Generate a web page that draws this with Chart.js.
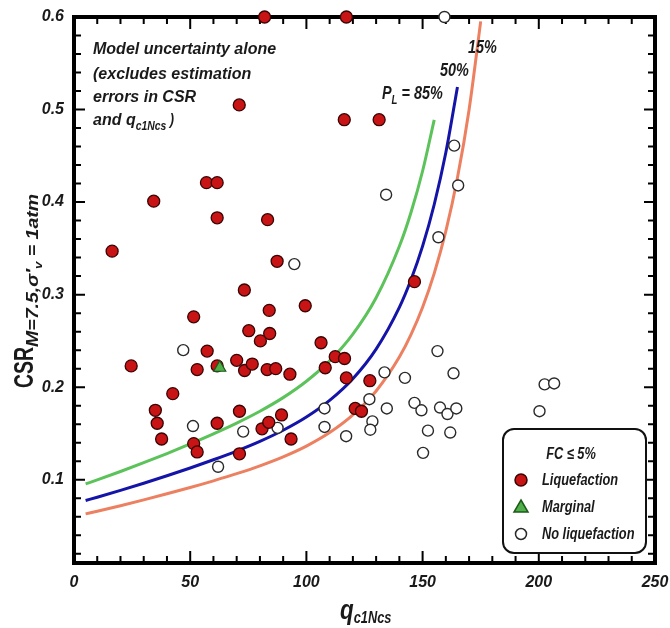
<!DOCTYPE html>
<html lang="en">
<head>
<meta charset="UTF-8">
<title>CSR vs qc1Ncs</title>
<script src="https://cdn.jsdelivr.net/npm/chart.js@4.4.9/dist/chart.umd.min.js"></script>
<style>
  html, body { margin: 0; padding: 0; background: #fff; }
  .wrap { width: 670px; height: 628px; }
</style>
</head>
<body>
<div class="wrap"><canvas id="liqChart" width="670" height="628"></canvas></div>
<script>
// axis ticks
const xTicks = [0, 50, 100, 150, 200, 250];
const yTicks = [0.1, 0.2, 0.3, 0.4, 0.5, 0.6];

// probability curves, P_L = 85%, 50%, 15%
const qPL85 = [5, 10, 20, 30, 40, 50, 60, 70, 80, 90, 100, 110, 120, 130, 140, 145, 150, 155];
const csrPL85 = [0.0955, 0.0998, 0.1089, 0.1184, 0.1283, 0.1387, 0.1496, 0.1612, 0.1740, 0.1887, 0.2064, 0.2284, 0.2573, 0.2966, 0.3522, 0.3888, 0.4336, 0.4889];
const qPL50 = [5, 10, 20, 30, 40, 50, 60, 70, 80, 90, 100, 110, 120, 130, 140, 145, 150, 155, 160, 165];
const csrPL50 = [0.0776, 0.0811, 0.0885, 0.0962, 0.1043, 0.1127, 0.1216, 0.1310, 0.1414, 0.1534, 0.1677, 0.1857, 0.2091, 0.2411, 0.2862, 0.3160, 0.3524, 0.3974, 0.4535, 0.5244];
const qPL15 = [5, 10, 20, 30, 40, 50, 60, 70, 80, 90, 100, 110, 120, 130, 140, 145, 150, 155, 160, 165, 170, 175];
const csrPL15 = [0.0631, 0.0659, 0.0719, 0.0782, 0.0848, 0.0916, 0.0988, 0.1065, 0.1150, 0.1247, 0.1363, 0.1509, 0.1700, 0.1959, 0.2326, 0.2568, 0.2864, 0.3230, 0.3686, 0.4262, 0.4998, 0.5953];

// case histories, FC <= 5%
const liqQ = [82.0, 117.2, 71.1, 116.3, 131.3, 34.3, 57.0, 61.6, 61.6, 83.3, 16.4, 87.4, 73.3, 99.5, 84.0, 51.5, 146.5, 75.2, 84.2, 80.2, 106.3, 57.3, 24.6, 53.0, 61.6, 70.0, 73.4, 76.7, 83.1, 86.8, 92.9, 108.1, 112.4, 116.4, 117.2, 127.3, 121.0, 123.7, 42.5, 35.0, 35.8, 37.7, 61.6, 71.2, 51.5, 53.0, 71.2, 80.9, 83.8, 89.3, 93.4];
const liqCSR = [0.600, 0.600, 0.505, 0.489, 0.489, 0.401, 0.421, 0.421, 0.383, 0.381, 0.347, 0.336, 0.305, 0.288, 0.283, 0.276, 0.314, 0.261, 0.258, 0.250, 0.248, 0.239, 0.223, 0.219, 0.223, 0.229, 0.218, 0.225, 0.219, 0.220, 0.214, 0.221, 0.233, 0.231, 0.210, 0.207, 0.177, 0.174, 0.193, 0.175, 0.161, 0.144, 0.161, 0.174, 0.139, 0.130, 0.128, 0.155, 0.162, 0.170, 0.144];
const margQ = [62.7];
const margCSR = [0.221];
const noLiqQ = [159.4, 163.6, 165.3, 134.3, 156.8, 94.8, 47.0, 156.4, 133.6, 142.4, 163.3, 202.5, 206.6, 200.3, 127.1, 134.6, 146.5, 149.5, 157.5, 160.7, 164.5, 128.4, 127.5, 117.1, 152.3, 161.9, 150.2, 107.8, 107.8, 51.2, 72.8, 87.6, 62.0];
const noLiqCSR = [0.600, 0.461, 0.418, 0.408, 0.362, 0.333, 0.240, 0.239, 0.216, 0.210, 0.215, 0.203, 0.204, 0.174, 0.187, 0.177, 0.183, 0.175, 0.178, 0.171, 0.177, 0.163, 0.154, 0.147, 0.153, 0.151, 0.129, 0.177, 0.157, 0.158, 0.152, 0.156, 0.114];

const RED = '#c81414', RED_EDGE = '#3a0404';
const GREEN_TRI = '#4fb04a', GREEN_EDGE = '#1d5a1a';
const OPEN_EDGE = '#2a2a2a';

const FAM = '"Liberation Sans", Arial, sans-serif';
const bi = size => 'italic bold ' + size + 'px ' + FAM;
const NARROW = 0.8;

const toXY = (xs, ys) => xs.map((x, i) => ({ x: x, y: ys[i] }));

function curve(xs, ys, color) {
    return {
        data: toXY(xs, ys),
        showLine: true,
        borderColor: color,
        borderWidth: 3,
        pointRadius: 0,
        cubicInterpolationMode: 'monotone',
        order: 3
    };
}

// width of a row of text pieces, each [text, font, dy]
function runsWidth(ctx, runs) {
    let w = 0;
    runs.forEach(r => { ctx.font = r[1]; w += ctx.measureText(r[0]).width; });
    return w;
}

// draw a row of text pieces, squeezed or stretched horizontally by sx
function drawRuns(ctx, x, y, runs, sx) {
    ctx.save();
    ctx.translate(x, y);
    ctx.scale(sx || 1, 1);
    let cx = 0;
    runs.forEach(r => {
        ctx.font = r[1];
        ctx.fillText(r[0], cx, r[2] || 0);
        cx += ctx.measureText(r[0]).width;
    });
    ctx.restore();
}

const framePlugin = {
    id: 'frame',
    beforeDatasetsDraw(chart) {
        const { ctx, chartArea: a, scales } = chart;
        const xs = scales.x, ys = scales.y;
        ctx.save();
        ctx.strokeStyle = '#000';
        ctx.lineWidth = 2;
        // inward ticks on all four sides
        for (let v = 10; v < 250; v += 10) {
            const px = xs.getPixelForValue(v);
            const len = v % 50 === 0 ? 12 : 7;
            ctx.beginPath();
            ctx.moveTo(px, a.bottom); ctx.lineTo(px, a.bottom - len);
            ctx.moveTo(px, a.top); ctx.lineTo(px, a.top + len);
            ctx.stroke();
        }
        for (let i = 1; i <= 29; i++) {
            const py = ys.getPixelForValue(i * 0.02);
            const len = i % 5 === 0 ? 11 : 7;
            ctx.beginPath();
            ctx.moveTo(a.left, py); ctx.lineTo(a.left + len, py);
            ctx.moveTo(a.right, py); ctx.lineTo(a.right - len, py);
            ctx.stroke();
        }
        ctx.lineWidth = 4;
        ctx.strokeRect(a.left, a.top, a.right - a.left, a.bottom - a.top);
        ctx.restore();
    },
    afterDatasetsDraw(chart) {
        const ctx = chart.ctx;
        ctx.save();
        ctx.fillStyle = '#1a1a1a';
        ctx.textBaseline = 'alphabetic';
        ctx.textAlign = 'left';

        // note in the upper left
        ctx.font = bi(16);
        ctx.fillText('Model uncertainty alone', 93, 54);
        ctx.fillText('(excludes estimation', 93, 79);
        ctx.fillText('errors in CSR', 93, 102);
        drawRuns(ctx, 93, 125, [['and q', bi(16)]]);
        ctx.font = bi(16);
        const qEnd = 93 + ctx.measureText('and q').width;
        drawRuns(ctx, qEnd, 125, [['c1Ncs', bi(13), 5], [' )', bi(16)]], NARROW);

        // curve labels
        drawRuns(ctx, 468, 53, [['15%', bi(18)]], NARROW);
        drawRuns(ctx, 440, 76, [['50%', bi(18)]], NARROW);
        drawRuns(ctx, 382, 99, [['P', bi(18)], ['L', bi(12), 5], [' = 85%', bi(18)]], NARROW);

        // axis titles
        drawRuns(ctx, 340, 619, [['q', bi(28)], ['c1Ncs', bi(16), 4]], NARROW);
        ctx.save();
        ctx.translate(33, 388);
        ctx.rotate(-Math.PI / 2);
        drawRuns(ctx, 0, 0, [['CSR', 'bold 27px ' + FAM]], 0.72);
        ctx.font = 'bold 27px ' + FAM;
        const csrW = ctx.measureText('CSR').width * 0.72;
        drawRuns(ctx, csrW, 0, [
            ['M=7.5,σ\u2032', bi(16), 5],
            ['v', bi(11), 9],
            [' = 1atm', bi(16), 5]
        ], 1.22);
        ctx.restore();

        // legend box
        const bx = 503, by = 429, bw = 143, bh = 124;
        ctx.beginPath();
        ctx.roundRect(bx, by, bw, bh, 11);
        ctx.fillStyle = '#fff';
        ctx.fill();
        ctx.lineWidth = 2;
        ctx.strokeStyle = '#111';
        ctx.stroke();

        ctx.fillStyle = '#1a1a1a';
        const titleRuns = [['FC \u2264 5%', bi(16)]];
        const tw = runsWidth(ctx, titleRuns) * NARROW;
        drawRuns(ctx, 571 - tw / 2, 459, titleRuns, NARROW);
        drawRuns(ctx, 542, 485, [['Liquefaction', bi(16)]], NARROW);
        drawRuns(ctx, 542, 512, [['Marginal', bi(16)]], NARROW);
        drawRuns(ctx, 542, 539, [['No liquefaction', bi(16)]], NARROW);

        ctx.lineWidth = 1.5;
        ctx.beginPath();
        ctx.arc(521, 480, 6, 0, Math.PI * 2);
        ctx.fillStyle = RED; ctx.fill();
        ctx.strokeStyle = RED_EDGE; ctx.stroke();

        ctx.beginPath();
        ctx.moveTo(521, 500); ctx.lineTo(528, 512); ctx.lineTo(514, 512); ctx.closePath();
        ctx.fillStyle = GREEN_TRI; ctx.fill();
        ctx.strokeStyle = GREEN_EDGE; ctx.stroke();

        ctx.beginPath();
        ctx.arc(521, 534, 5.5, 0, Math.PI * 2);
        ctx.fillStyle = '#fff'; ctx.fill();
        ctx.strokeStyle = OPEN_EDGE; ctx.stroke();
        ctx.restore();
    }
};

new Chart(document.getElementById('liqChart'), {
    type: 'scatter',
    data: {
        datasets: [
            curve(qPL85, csrPL85, '#5cc25a'),
            curve(qPL50, csrPL50, '#1414a8'),
            curve(qPL15, csrPL15, '#ec8060'),
            {
                data: toXY(liqQ, liqCSR),
                pointRadius: 6,
                pointBackgroundColor: RED,
                pointBorderColor: RED_EDGE,
                pointBorderWidth: 1.3,
                clip: false,
                order: 1
            },
            {
                data: toXY(margQ, margCSR),
                pointStyle: 'triangle',
                pointRadius: 7,
                pointBackgroundColor: GREEN_TRI,
                pointBorderColor: GREEN_EDGE,
                pointBorderWidth: 1.2,
                clip: false,
                order: 0
            },
            {
                data: toXY(noLiqQ, noLiqCSR),
                pointRadius: 5.5,
                pointBackgroundColor: '#fff',
                pointBorderColor: OPEN_EDGE,
                pointBorderWidth: 1.4,
                clip: false,
                order: 2
            }
        ]
    },
    options: {
        responsive: false,
        animation: false,
        layout: { padding: { top: 17, right: 15, left: 0, bottom: 0 } },
        plugins: { legend: { display: false }, tooltip: { enabled: false } },
        scales: {
            x: {
                type: 'linear',
                min: 0,
                max: 250,
                afterBuildTicks: s => { s.ticks = xTicks.map(v => ({ value: v })); },
                afterFit: s => { s.height = 65; s.paddingRight = 0; s.paddingLeft = 0; },
                grid: { display: false, drawTicks: false },
                border: { display: false },
                ticks: { font: { size: 16, weight: 'bold', style: 'italic', family: FAM }, color: '#1a1a1a', padding: 10, maxRotation: 0, autoSkip: false }
            },
            y: {
                min: 0.01,
                max: 0.6,
                afterBuildTicks: s => { s.ticks = yTicks.map(v => ({ value: v })); },
                afterFit: s => { s.width = 74; s.paddingTop = 0; s.paddingBottom = 0; },
                grid: { display: false, drawTicks: false },
                border: { display: false },
                ticks: { font: { size: 16, weight: 'bold', style: 'italic', family: FAM }, color: '#1a1a1a', padding: 10, callback: v => v.toFixed(1) }
            }
        }
    },
    plugins: [framePlugin]
});
</script>
</body>
</html>
